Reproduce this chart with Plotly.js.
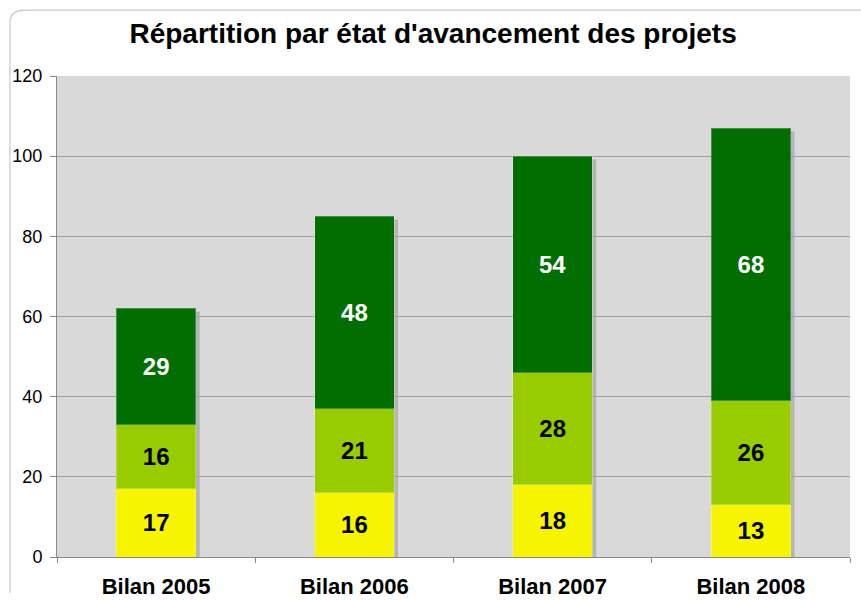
<!DOCTYPE html>
<html><head><meta charset="utf-8">
<script src="https://cdn.plot.ly/plotly-3.0.1.min.js"></script>
<style>html,body{margin:0;padding:0;background:#fff}#chart{width:861px;height:601px}</style>
</head><body><div id="chart"></div>
<script>
const categories = ["Bilan 2005", "Bilan 2006", "Bilan 2007", "Bilan 2008"];
const seriesYellow = [17, 16, 18, 13];
const seriesLight = [16, 21, 28, 26];
const seriesDark = [29, 48, 54, 68];
const yTicks = [0, 20, 40, 60, 80, 100, 120];

const colors = {yellow: "#f7f400", light: "#99cc00", dark: "#006e00"};
const labelFont = (c) => ({family: "Liberation Sans, Arial, sans-serif", size: 24, color: c, weight: "bold"});

function barTrace(vals, color, txtColor) {
  return {
    type: "bar", x: categories, y: vals, width: 0.4,
    marker: {color: color, line: {color: "rgba(255,255,255,0.25)", width: 1}},
    text: vals.map(String), textposition: "inside", insidetextanchor: "middle",
    textfont: labelFont(txtColor), constraintext: "none", hoverinfo: "skip",
    showlegend: false
  };
}

const totals = categories.map((c, i) => seriesYellow[i] + seriesLight[i] + seriesDark[i]);
const shadowShapes = totals.map((t, i) => ({
  type: "rect", xref: "x", yref: "y", layer: "below",
  x0: i - 0.2 + 0.02, x1: i + 0.2 + 0.02, y0: 0, y1: t - 0.8,
  fillcolor: "#b4b4b4", line: {width: 0}
}));

const border = {
  type: "path", xref: "paper", yref: "paper", layer: "below",
  path: "M -0.0593,-0.075 L -0.0593,1.111 Q -0.0593,1.137 -0.04,1.137 L 1.02,1.137",
  line: {color: "#c8c8c8", width: 1.2}
};

const layout = {
  width: 861, height: 601,
  margin: {l: 57, r: 11, t: 76, b: 44},
  paper_bgcolor: "#ffffff", plot_bgcolor: "#d9d9d9",
  barmode: "stack",
  title: {text: "Répartition par état d'avancement des projets", x: 0.503, xanchor: "center", y: 0.944, yanchor: "middle",
          font: {family: "Liberation Sans, Arial, sans-serif", size: 28, color: "#000", weight: "bold"}},
  xaxis: {type: "category", showgrid: false, zeroline: false, showline: true, linecolor: "#888", linewidth: 1,
          ticks: "outside", tickson: "boundaries", ticklen: 5, tickcolor: "#888", ticklabelstandoff: 10,
          tickfont: {family: "Liberation Sans, Arial, sans-serif", size: 22, color: "#000", weight: "bold"}},
  yaxis: {range: [0, 120], tickvals: yTicks, ticktext: yTicks.map(String), showgrid: true, gridcolor: "#a0a0a0", gridwidth: 1,
          zeroline: false, showline: true, linecolor: "#888", linewidth: 1, ticks: "outside", ticklen: 6, tickcolor: "#888",
          ticklabelstandoff: 4,
          tickfont: {family: "Liberation Sans, Arial, sans-serif", size: 18, color: "#000"}},
  shapes: shadowShapes.concat([border]),
  uniformtext: {mode: false}
};

Plotly.newPlot("chart", [
  barTrace(seriesYellow, colors.yellow, "#000"),
  barTrace(seriesLight, colors.light, "#000"),
  barTrace(seriesDark, colors.dark, "#fff")
], layout, {displayModeBar: false, staticPlot: true});
</script></body></html>
